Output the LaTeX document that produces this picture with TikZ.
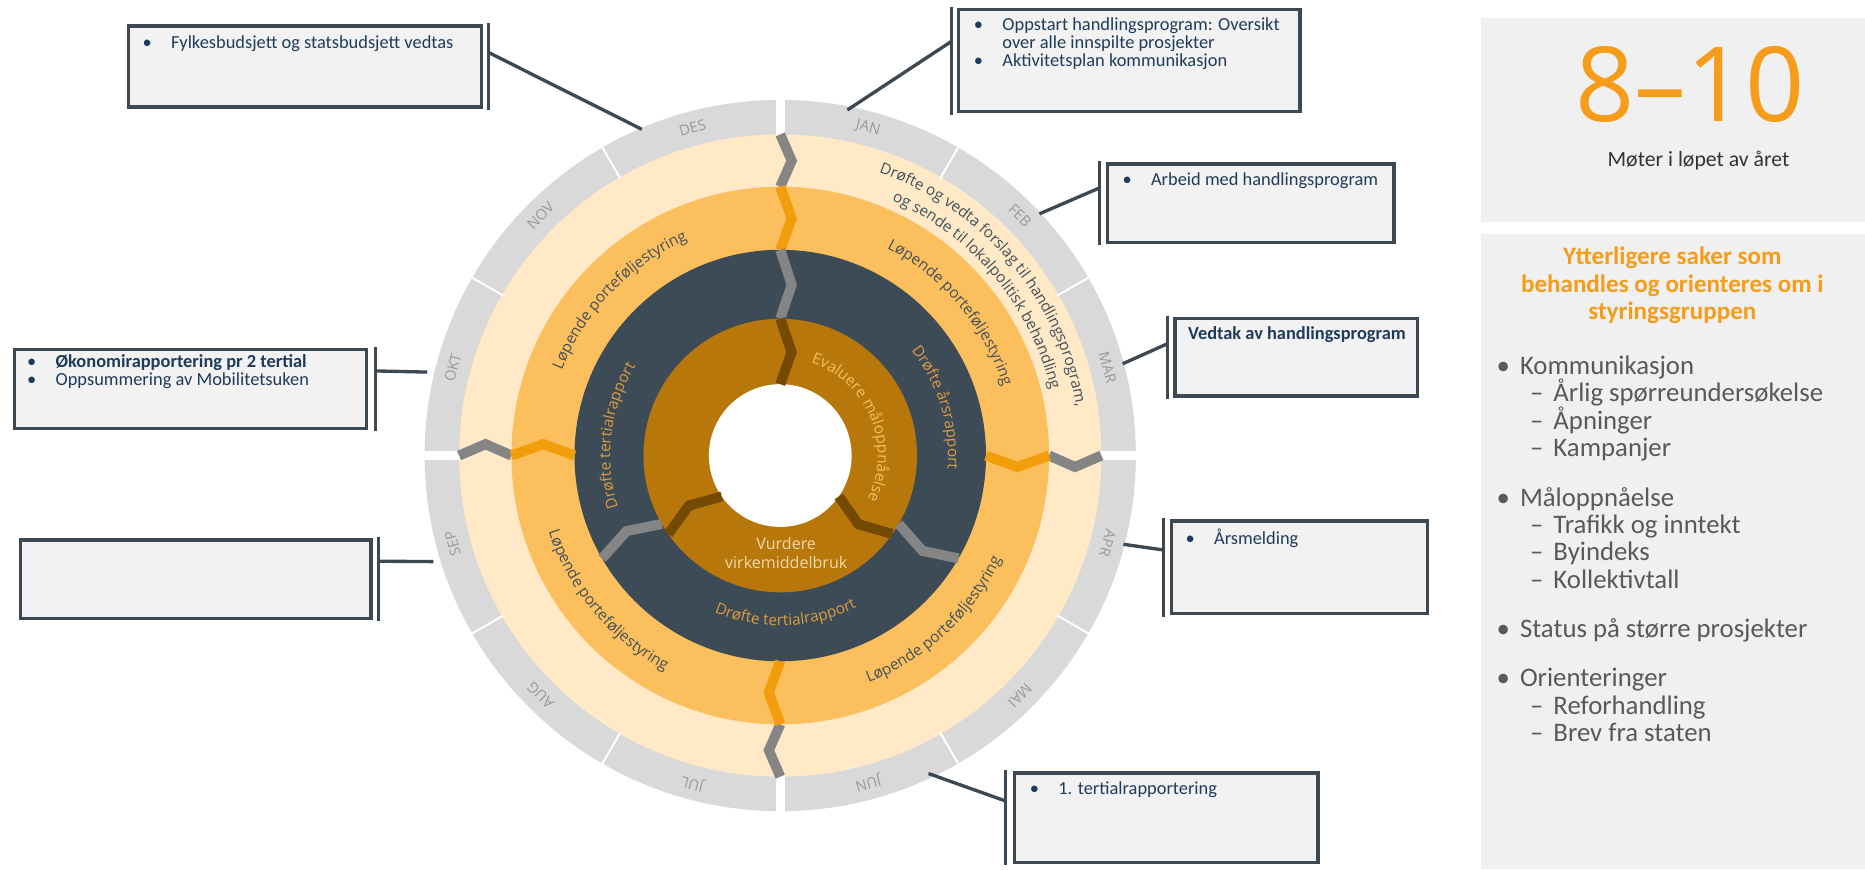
\documentclass[tikz,border=0pt]{standalone}
\usepackage{fontspec}
\setmainfont{Carlito}
\newfontfamily\ringfont{Open Sans}
\usetikzlibrary{calc,fit,decorations.text}

\definecolor{monthring}{HTML}{D9D9D9}
\definecolor{monthtext}{HTML}{9A9A9A}
\definecolor{peach}{HTML}{FFE9C6}
\definecolor{ambre}{HTML}{FBBF5D}
\definecolor{ambredark}{HTML}{F19D0C}
\definecolor{slate}{HTML}{3D4B57}
\definecolor{slategap}{HTML}{858585}
\definecolor{gold}{HTML}{B7770B}
\definecolor{golddark}{HTML}{744902}
\definecolor{goldtext}{HTML}{F6BE60}
\definecolor{goldpale}{HTML}{F3D9A8}
\definecolor{slatetext}{HTML}{DB9B40}
\definecolor{ringdark}{HTML}{44505A}
\definecolor{boxline}{HTML}{3D4852}
\definecolor{boxfill}{HTML}{F2F2F2}
\definecolor{boxtext}{HTML}{1F3B5C}
\definecolor{panelfill}{HTML}{F0F0F0}
\definecolor{accent}{HTML}{F59C1A}
\definecolor{listtext}{HTML}{595959}

\newcommand{\ringtxt}{\ringfont\fontsize{9.2}{10}\selectfont}
\newcommand{\bul}{\makebox[17pt][l]{\textbullet}}
% chevron divider: angle, inner radius, outer radius, colour
\newcommand{\chevron}[4]{%
  \draw[#4, line width=6pt]
    ($(c)+(#1:#2)$) -- ($(c)+({#1-1100/(#2+#3)}:{(#2+#3)/2})$) -- ($(c)+(#1:#3)$);}

\begin{document}
\begin{tikzpicture}[x=0.025cm,y=0.025cm,
  month/.style={font=\ringfont\fontsize{8.8}{9}\selectfont, text=monthtext, inner sep=0},
  along/.style={decorate, decoration={text along path, text align=center, text={#1}}},
  infobox/.style={draw=boxline, fill=boxfill, line width=2pt, inner sep=0},
  boxtxt/.style={font=\fontsize{11}{10.8}\selectfont, text=boxtext, align=left, inner sep=0, anchor=north west},
  link/.style={draw=boxline, line width=2pt},
  sidebar/.style={draw=boxline, line width=1.8pt},
  panel/.style={fill=panelfill, inner sep=0}]
\useasboundingbox (0,0) rectangle (1568,731);
\coordinate (c) at (656,348);

% rings
\fill[monthring] (c) circle[radius=299];
\fill[peach] (c) circle[radius=270];
\fill[ambre] (c) circle[radius=226];
\fill[slate] (c) circle[radius=173];
\fill[gold] (c) circle[radius=115];
\fill[white] (c) circle[radius=60];

\foreach \a in {60,30,-30,-60,-120,-150,150,120}
  {\draw[white, line width=1.2pt] ($(c)+(\a:269)$) -- ($(c)+(\a:301)$);}
\foreach \a in {0,90,180,270}
  {\draw[white, line width=5.5pt] ($(c)+(\a:269)$) -- ($(c)+(\a:302)$);}

% dividers
\foreach \a in {90,0,180,270} {
  \chevron{\a}{226}{270}{slategap}
  \chevron{\a}{173}{226}{ambredark}
}
\foreach \a in {90,-30,-150} {
  \chevron{\a}{115}{173}{slategap}
}
\foreach \a in {90,-35,-145} {
  \chevron{\a}{60}{115}{golddark}
}

% months
\foreach \m [count=\i] in {JAN,FEB,MAR,APR,MAI,JUN,JUL,AUG,SEP,OKT,NOV,DES}
  {\node[month, rotate={15-30*\i}] (m\i) at ($(c)+({105-30*\i}:285)$) {\m};}

% ring texts
\path[along={|\ringtxt\color{ringdark}|Drøfte og vedta forslag til handlingsprogram,}]
  ($(c)+(95:252)$) arc[start angle=95, end angle=-15, radius=252];
\path[along={|\ringtxt\color{ringdark}|og sende til lokalpolitisk behandling}]
  ($(c)+(95:234)$) arc[start angle=95, end angle=-15, radius=234];

\path[along={|\ringtxt\color{ringdark}|Løpende porteføljestyring}]
  ($(c)+(176:197)$) arc[start angle=176, end angle=96, radius=197];
\path[along={|\ringtxt\color{ringdark}|Løpende porteføljestyring}]
  ($(c)+(80:196)$) arc[start angle=80, end angle=0, radius=196];
\path[along={|\ringtxt\color{ringdark}|Løpende porteføljestyring}]
  ($(c)+(-87:205)$) arc[start angle=-87, end angle=-7, radius=205];
\path[along={|\ringtxt\color{ringdark}|Løpende porteføljestyring}]
  ($(c)+(-180:205)$) arc[start angle=-180, end angle=-100, radius=205];

\path[along={|\ringtxt\color{slatetext}|Drøfte årsrapport}]
  ($(c)+(57:141)$) arc[start angle=57, end angle=-23, radius=141];
\path[along={|\ringtxt\color{slatetext}|Drøfte tertialrapport}]
  ($(c)+(213:143)$) arc[start angle=213, end angle=133, radius=143];
\path[along={|\ringtxt\color{slatetext}|Drøfte tertialrapport}]
  ($(c)+(-128:143)$) arc[start angle=-128, end angle=-48, radius=143];

\path[along={|\ringtxt\color{goldtext}|Evaluere måloppnåelse}]
  ($(c)+(75:82)$) arc[start angle=75, end angle=-30, radius=82];
\node[font=\ringfont\fontsize{9.6}{11}\selectfont, text=goldpale, align=center] (vurdere) at (661,266)
  {Vurdere\\virkemiddelbruk};

% ring points for the call-outs
\coordinate (pJan) at ($(c)+(79:296)$);
\coordinate (pFeb) at ($(c)+(43:298)$);
\coordinate (pMar) at ($(c)+(15:298)$);
\coordinate (pApr) at ($(c)+(-14.5:298)$);
\coordinate (pJun) at ($(c)+(-65:295)$);
\coordinate (pSep) at ($(c)+(197:305)$);
\coordinate (pOkt) at ($(c)+(166.7:305)$);
\coordinate (pDes) at ($(c)+(113:298)$);

% call-out boxes
\node[infobox, fit={(108,641) (405,709)}] (boxDes) {};
\node[boxtxt] (tDes) at ($(boxDes.north west)+(13,-9)$)
  {\bul Fylkesbudsjett og statsbudsjett vedtas};
\draw[sidebar] ($(boxDes.north east)+(4,1)$) -- ($(boxDes.south east)+(4,-1)$);
\coordinate (aDes) at ($(boxDes.north east)!0.33!(boxDes.south east)+(4,0)$);
\draw[link] (aDes) -- (pDes);

\node[infobox, fit={(806,637) (1093,723)}] (boxJan) {};
\node[boxtxt] (tJan) at ($(boxJan.north west)+(14,-8)$)
  {\bul Oppstart handlingsprogram: Oversikt\\
   \hspace*{17pt}over alle innspilte prosjekter\\
   \bul Aktivitetsplan kommunikasjon};
\draw[sidebar] ($(boxJan.north west)+(-5,1)$) -- ($(boxJan.south west)+(-5,-1)$);
\coordinate (aJan) at ($(boxJan.north west)!0.32!(boxJan.south west)+(-5,0)$);
\draw[link] (aJan) -- (pJan);

\node[infobox, fit={(931,527) (1172,593)}] (boxFeb) {};
\node[boxtxt] (tFeb) at ($(boxFeb.north west)+(14,-8)$)
  {\bul Arbeid med handlingsprogram};
\draw[sidebar] ($(boxFeb.north west)+(-5,1)$) -- ($(boxFeb.south west)+(-5,-1)$);
\coordinate (aFeb) at ($(boxFeb.north west)!0.31!(boxFeb.south west)+(-5,0)$);
\draw[link] (aFeb) -- (pFeb);

\node[infobox, fit={(988,398) (1192,463)}] (boxMar) {};
\node[boxtxt] (tMar) at ($(boxMar.north west)+(12,-8)$)
  {\textbf{Vedtak av handlingsprogram}};
\draw[sidebar] ($(boxMar.north west)+(-5,1)$) -- ($(boxMar.south west)+(-5,-1)$);
\coordinate (aMar) at ($(boxMar.north west)!0.33!(boxMar.south west)+(-5,0)$);
\draw[link] (aMar) -- (pMar);

\node[infobox, fit={(985,215) (1200,293)}] (boxApr) {};
\node[boxtxt] (tApr) at ($(boxApr.north west)+(13,-8)$)
  {\bul Årsmelding};
\draw[sidebar] ($(boxApr.north west)+(-5,1)$) -- ($(boxApr.south west)+(-5,-1)$);
\coordinate (aApr) at ($(boxApr.north west)!0.32!(boxApr.south west)+(-5,0)$);
\draw[link] (aApr) -- (pApr);

\node[infobox, fit={(853,6) (1108,81)}] (boxJun) {};
\node[boxtxt] (tJun) at ($(boxJun.north west)+(14,-8)$)
  {\bul 1. tertialrapportering};
\draw[sidebar] ($(boxJun.north west)+(-6,1)$) -- ($(boxJun.south west)+(-6,-1)$);
\coordinate (aJun) at ($(boxJun.north west)!0.32!(boxJun.south west)+(-6,0)$);
\draw[link] (aJun) -- (pJun);

\node[infobox, fit={(17,211) (312,277)}] (boxSep) {};
\draw[sidebar] ($(boxSep.north east)+(5,1)$) -- ($(boxSep.south east)+(5,-1)$);
\coordinate (aSep) at ($(boxSep.north east)!0.28!(boxSep.south east)+(5,0)$);
\draw[link] (aSep) -- (pSep);

\node[infobox, fit={(12,371) (308,437)}] (boxOkt) {};
\node[boxtxt] (tOkt) at ($(boxOkt.north west)+(12,-5)$)
  {\bul\textbf{Økonomirapportering pr 2 tertial}\\
   \bul Oppsummering av Mobilitetsuken};
\draw[sidebar] ($(boxOkt.north east)+(6,1)$) -- ($(boxOkt.south east)+(6,-1)$);
\coordinate (aOkt) at ($(boxOkt.north east)!0.28!(boxOkt.south east)+(6,0)$);
\draw[link] (aOkt) -- (pOkt);

% right panels
\node[panel, fit={(1245,544) (1568,716)}] (panelTop) {};
\node[font=\ringfont\fontsize{62}{62}\selectfont, text=accent] (count) at (1421,660) {8–10};
\node[font=\fontsize{13}{15}\selectfont, text=black!80] (meet) at (1428,596) {Møter i løpet av året};

\node[panel, fit={(1245,0) (1568,534)}] (panelBottom) {};
\node[font=\bfseries\fontsize{15}{16.4}\selectfont, text=accent, align=center] (extra) at (1406,491)
  {Ytterligere saker som\\behandles og orienteres om i\\styringsgruppen};
\node[font=\fontsize{16}{16.4}\selectfont, text=listtext, align=left, inner sep=0, anchor=north west] (topics) at (1258,432)
  {\makebox[14pt][l]{\textbullet}Kommunikasjon\\
   \hspace*{20pt}\makebox[14pt][l]{–}Årlig spørreundersøkelse\\
   \hspace*{20pt}\makebox[14pt][l]{–}Åpninger\\
   \hspace*{20pt}\makebox[14pt][l]{–}Kampanjer\\[13pt]
   \makebox[14pt][l]{\textbullet}Måloppnåelse\\
   \hspace*{20pt}\makebox[14pt][l]{–}Trafikk og inntekt\\
   \hspace*{20pt}\makebox[14pt][l]{–}Byindeks\\
   \hspace*{20pt}\makebox[14pt][l]{–}Kollektivtall\\[13pt]
   \makebox[14pt][l]{\textbullet}Status på større prosjekter\\[13pt]
   \makebox[14pt][l]{\textbullet}Orienteringer\\
   \hspace*{20pt}\makebox[14pt][l]{–}Reforhandling\\
   \hspace*{20pt}\makebox[14pt][l]{–}Brev fra staten};
\end{tikzpicture}
\end{document}
